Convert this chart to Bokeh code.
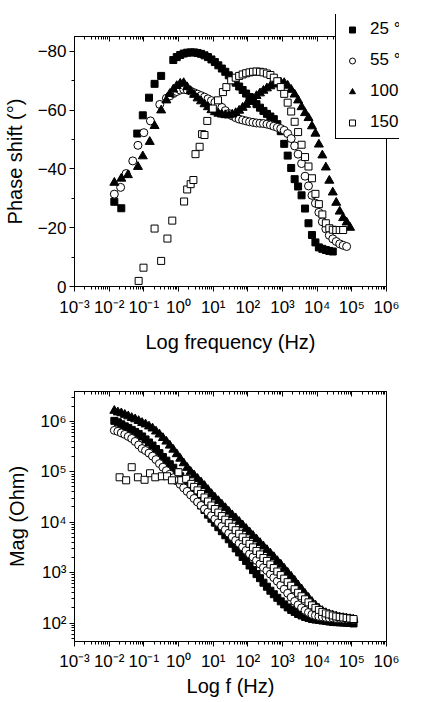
from bokeh.plotting import figure
from bokeh.layouts import column
from bokeh.models import (Range1d, FixedTicker, CustomJSTickFormatter, LogAxis,
                          Legend, LegendItem)
from bokeh.embed import file_html
from bokeh.resources import INLINE

FONT = "Liberation Sans"

# ---------------- data ----------------
# master frequency grid (Hz)
FREQ = [0.0141, 0.0178, 0.0224, 0.0282, 0.0355, 0.0447, 0.0562, 0.0708, 0.0891, 0.112,
        0.141, 0.178, 0.224, 0.282, 0.355, 0.447, 0.562, 0.708, 0.891, 1.12,
        1.41, 1.78, 2.24, 2.82, 3.55, 4.47, 5.62, 7.08, 8.91, 11.2,
        14.1, 17.8, 22.4, 28.2, 35.5, 44.7, 56.2, 70.8, 89.1, 112,
        141, 178, 224, 282, 355, 447, 562, 708, 891, 1120,
        1410, 1780, 2240, 2820, 3550, 4470, 5620, 7080, 8910, 11200,
        14100, 17800, 22400, 28200, 35500, 44700, 56200, 70800, 89100, 112000]

LABELS = ["25 °C", "55 °C", "100 °C", "150 °C"]

# Phase shift (degrees)
F25_PH = [0.0141, 0.0224, 0.0646, 0.0933, 0.141, 0.204, 0.316] + FREQ[17:64]
PH25 = [-28.8, -26.6, -52.0, -58.2, -64.2, -68.9, -71.6,
        -77.0, -78.0, -78.7, -79.2, -79.5, -79.6, -79.6, -79.4, -79.1, -78.6,
        -78.0, -77.2, -76.3, -75.2, -74.1, -73.0, -71.8, -70.6, -69.3, -68.0,
        -66.8, -65.6, -64.4, -63.2, -62.0, -60.8, -59.7, -58.7, -57.8, -56.9,
        -55.2, -52.8, -48.5, -44.5, -40.3, -36.5, -34.0, -31.0, -26.5, -21.5,
        -17.5, -15.0, -13.3, -12.8, -12.4, -12.1, -11.9]

F55_PH = [0.0141, 0.0214, 0.0309, 0.0479, 0.0676, 0.1, 0.155, 0.288] + FREQ[15:68]
PH55 = [-31.4, -33.7, -38.4, -42.7, -48.0, -52.3, -56.3, -61.9,
        -64.0, -64.8, -65.6, -66.3, -66.8, -67.0, -66.8, -66.4, -65.9, -65.4,
        -64.9, -64.4, -63.8, -63.2, -62.6, -61.9, -60.9, -59.8, -58.8, -58.0,
        -57.4, -56.9, -56.6, -56.3, -56.0, -55.8, -55.6, -55.5, -55.4, -55.2,
        -54.9, -54.5, -54.1, -53.7, -53.1, -52.0, -50.3, -47.8, -45.0, -41.8,
        -37.5, -34.2, -31.0, -28.3, -25.2, -22.0, -19.6, -17.4, -16.2, -15.3,
        -14.5, -14.0, -13.6]

F100_PH = [0.0141, 0.0224, 0.0347, 0.0676, 0.0933, 0.148, 0.204, 0.316, 0.447] + FREQ[16:69]
PH100 = [-35.3, -36.7, -37.9, -40.7, -44.3, -49.2, -54.6, -59.9, -63.3,
         -65.5, -67.0, -68.2, -69.0, -69.2, -67.8, -66.5, -65.2, -64.0, -63.0,
         -62.0, -61.0, -60.0, -59.3, -58.8, -58.5, -58.3, -58.2, -58.5, -59.0,
         -59.8, -60.8, -61.8, -62.8, -63.8, -64.8, -65.7, -66.6, -67.4, -68.1,
         -68.7, -69.2, -69.4, -69.2, -68.3, -66.9, -65.3, -63.3, -61.0, -59.0,
         -57.3, -54.5, -52.0, -48.3, -44.6, -40.5, -36.0, -32.0, -28.5, -25.5,
         -23.3, -21.8, -20.0]

F150_PH = [0.0708, 0.0977, 0.204, 0.316, 0.479, 0.661, 1.45, 1.78, 2.24, 2.69,
           3.09, 4.07, 4.79, 5.62, 6.76, 9.77, 13.8, 19.1, 24.0, 33.1] + FREQ[35:67]
PH150 = [-1.9, -6.4, -19.7, -8.7, -16.3, -22.4, -28.9, -33.0, -34.8, -36.2,
         -45.0, -47.5, -51.8, -51.5, -56.3, -60.5, -63.3, -66.1, -67.8, -70.1,
         -71.0, -71.6, -72.1, -72.5, -72.8, -73.0, -73.1, -73.0, -72.8, -72.4,
         -71.9, -71.0, -69.8, -67.8, -65.5, -62.5, -59.5, -56.0, -52.5, -48.2,
         -44.0, -40.8, -36.8, -31.5, -28.0, -24.5, -21.5, -19.8, -19.3, -19.2,
         -19.2, -19.2]

# Impedance magnitude (Ohm)
F25_MAG = FREQ
MAG25 = [1.02e6, 9.55e5, 8.71e5, 7.94e5, 7.41e5, 6.76e5, 6.17e5, 5.62e5, 5.01e5, 4.37e5,
         3.80e5, 3.31e5, 2.82e5, 2.34e5, 1.95e5, 1.66e5, 1.41e5, 1.20e5, 9.77e4, 8.13e4,
         6.61e4, 5.25e4, 4.17e4, 3.31e4, 2.63e4, 2.14e4, 1.74e4, 1.41e4, 1.17e4, 9.77e3,
         7.94e3, 6.61e3, 5.50e3, 4.57e3, 3.72e3, 3.02e3, 2.51e3, 2.04e3, 1.70e3, 1.38e3,
         1.12e3, 933, 776, 631, 525, 437, 372, 316, 269, 234,
         204, 182, 166, 151, 141, 132, 126, 120, 117, 115,
         112, 110, 107, 105, 104, 103, 102, 101, 100, 98]

F55_MAG = FREQ
MAG55 = [6.61e5, 6.31e5, 5.89e5, 5.50e5, 5.01e5, 4.57e5, 3.98e5, 3.39e5, 2.88e5, 2.63e5,
         2.34e5, 2.04e5, 1.74e5, 1.45e5, 1.23e5, 1.05e5, 8.91e4, 7.59e4, 6.61e4, 5.62e4,
         4.79e4, 4.07e4, 3.47e4, 2.95e4, 2.51e4, 2.14e4, 1.82e4, 1.58e4, 1.35e4, 1.15e4,
         9.77e3, 8.32e3, 7.08e3, 6.03e3, 5.13e3, 4.37e3, 3.80e3, 3.24e3, 2.75e3, 2.34e3,
         2.04e3, 1.74e3, 1.48e3, 1.26e3, 1.10e3, 933, 794, 676, 562, 468,
         389, 324, 269, 229, 200, 178, 162, 148, 141, 135,
         132, 129, 126, 126, 123, 123, 120, 120, 120, 117]

F100_MAG = FREQ
MAG100 = [1.62e6, 1.51e6, 1.45e6, 1.35e6, 1.26e6, 1.17e6, 1.10e6, 1.02e6, 9.33e5, 8.71e5,
          7.94e5, 7.24e5, 6.31e5, 5.50e5, 4.68e5, 3.98e5, 3.31e5, 2.75e5, 2.24e5, 1.82e5,
          1.48e5, 1.20e5, 1.00e5, 8.51e4, 7.24e4, 6.17e4, 5.25e4, 4.37e4, 3.63e4, 3.09e4,
          2.63e4, 2.24e4, 1.91e4, 1.62e4, 1.38e4, 1.20e4, 1.02e4, 8.71e3, 7.41e3, 6.31e3,
          5.37e3, 4.57e3, 3.89e3, 3.31e3, 2.82e3, 2.40e3, 2.04e3, 1.70e3, 1.45e3, 1.20e3,
          1.00e3, 832, 692, 562, 468, 380, 316, 263, 224, 195,
          174, 158, 148, 141, 135, 129, 126, 123, 120, 117]

F150_MAG = [0.02, 0.0309, 0.0447, 0.0676, 0.105, 0.151, 0.214, 0.331, 0.468, 0.646,
            1.0, 1.2, 1.66, 2.34] + FREQ[23:70]
MAG150 = [7.76e4, 6.76e4, 1.23e5, 7.76e4, 6.92e4, 9.33e4, 7.76e4, 8.13e4, 8.13e4, 6.76e4,
          9.77e4, 6.76e4, 7.24e4, 5.75e4,
          5.01e4, 4.27e4, 3.63e4, 3.09e4, 2.57e4, 2.14e4, 1.82e4, 1.55e4, 1.32e4, 1.12e4,
          9.55e3, 8.13e3, 6.92e3, 5.89e3, 5.01e3, 4.27e3, 3.72e3, 3.16e3, 2.69e3, 2.29e3,
          1.95e3, 1.70e3, 1.45e3, 1.23e3, 1.05e3, 891, 759, 646, 550, 468,
          398, 339, 295, 257, 224, 200, 182, 166, 155, 148,
          141, 135, 132, 129, 126, 123, 120]

# ticks
XTICKS = [0.001, 0.01, 0.1, 1, 10, 100, 1000, 10000, 100000, 1000000]
PH_TICKS = [0, -20, -40, -60, -80]
PH_MINOR = [-10, -30, -50, -70]
MAG_TICKS = [100, 1000, 10000, 100000, 1000000]

XMINOR = [m * t for t in XTICKS[:-1] for m in range(2, 10)]
MAGMINOR = [m * t for t in [10] + MAG_TICKS for m in range(2, 10)]

SUP_CODE = """
const sup = {"-": "\u207b", "0": "\u2070", "1": "\u00b9", "2": "\u00b2", "3": "\u00b3",
             "4": "\u2074", "5": "\u2075", "6": "\u2076", "7": "\u2077", "8": "\u2078", "9": "\u2079"};
const e = Math.round(Math.log10(tick));
return "10" + String(e).split("").map((c) => sup[c]).join("");
"""

MARKERS = [
    dict(marker="square", size=7, fill_color="black", line_color="black"),
    dict(marker="circle", size=8, fill_color="white", line_color="black"),
    dict(marker="triangle", size=9, fill_color="black", line_color="black"),
    dict(marker="square", size=7, fill_color="white", line_color="black"),
]


def style_main_axis(ax, major, minor, label_standoff, axis_standoff, formatter=None):
    ax.ticker = FixedTicker(ticks=major, minor_ticks=minor)
    if formatter is not None:
        ax.formatter = formatter
    ax.major_label_text_font = FONT
    ax.major_label_text_font_size = "17px"
    ax.major_label_text_color = "black"
    ax.axis_label_text_font = FONT
    ax.axis_label_text_font_size = "20px"
    ax.axis_label_text_font_style = "normal"
    ax.axis_label_text_color = "black"
    ax.axis_line_color = "black"
    ax.major_tick_line_color = "black"
    ax.minor_tick_line_color = "black"
    ax.major_tick_in = 0
    ax.major_tick_out = 5
    ax.minor_tick_in = 0
    ax.minor_tick_out = 3
    ax.major_label_standoff = label_standoff
    ax.axis_label_standoff = axis_standoff


def top_mirror(major, minor):
    return LogAxis(ticker=FixedTicker(ticks=major, minor_ticks=minor),
                   formatter=CustomJSTickFormatter(code="return '';"),
                   major_label_text_font_size="8px",
                   major_tick_in=5, major_tick_out=0,
                   minor_tick_in=3, minor_tick_out=0,
                   major_label_standoff=0,
                   axis_line_color="black",
                   major_tick_line_color="black", minor_tick_line_color="black")


# ---------------- top: phase ----------------
p1 = figure(frame_width=312, frame_height=250, x_axis_type="log",
            x_range=Range1d(1e-3, 1e6), y_range=Range1d(0, -85),
            output_backend="svg", toolbar_location=None,
            min_border_left=68, min_border_right=35,
            min_border_top=36, min_border_bottom=77)
p1.xgrid.visible = False
p1.ygrid.visible = False
p1.outline_line_color = "black"
p1.outline_line_alpha = 1.0

style_main_axis(p1.xaxis[0], XTICKS, XMINOR, 6, 11, CustomJSTickFormatter(code=SUP_CODE))
style_main_axis(p1.yaxis[0], PH_TICKS, PH_MINOR, 3, 9)
p1.xaxis[0].axis_label = "Log frequency (Hz)"
p1.yaxis[0].axis_label = "Phase shift (°)"
p1.add_layout(top_mirror(XTICKS, XMINOR), "above")

for fx, fy, mk in zip([F25_PH, F55_PH, F100_PH, F150_PH], [PH25, PH55, PH100, PH150], MARKERS):
    p1.scatter(fx, fy, line_width=1, **mk)

# ---------------- legend (overlaid on the top-right corner of the phase plot) ----------------
lf = figure(width=174, height=125, x_range=Range1d(0, 1), y_range=Range1d(0, 1),
            output_backend="svg", toolbar_location=None, min_border=0,
            x_axis_location=None, y_axis_location=None,
            outline_line_color=None, background_fill_alpha=0, border_fill_alpha=0,
            margin=(-349, 0, 224, 261))
lf.xgrid.visible = False
lf.ygrid.visible = False
proxies = [lf.scatter(x=[float("nan")], y=[float("nan")], line_width=1, **mk) for mk in MARKERS]
legend = Legend(items=[LegendItem(label=l, renderers=[r]) for l, r in zip(LABELS, proxies)],
                location=(0, 0), orientation="vertical",
                border_line_color="black", border_line_width=1, border_line_alpha=1.0,
                background_fill_color="white", background_fill_alpha=1.0,
                padding=6, spacing=11, margin=0,
                label_height=20, glyph_height=15, glyph_width=20, label_standoff=8,
                label_text_font=FONT, label_text_font_size="17px", label_text_color="black")
lf.add_layout(legend)

# ---------------- bottom: magnitude ----------------
p2 = figure(frame_width=312, frame_height=250, x_axis_type="log", y_axis_type="log",
            x_range=Range1d(1e-3, 1e6), y_range=Range1d(43, 3.9e6),
            output_backend="svg", toolbar_location=None,
            min_border_left=67, min_border_right=36,
            min_border_top=28, min_border_bottom=53)
p2.xgrid.visible = False
p2.ygrid.visible = False
p2.outline_line_color = "black"
p2.outline_line_alpha = 1.0

style_main_axis(p2.xaxis[0], XTICKS, XMINOR, 5, 1, CustomJSTickFormatter(code=SUP_CODE))
style_main_axis(p2.yaxis[0], MAG_TICKS, MAGMINOR, 3, 9, CustomJSTickFormatter(code=SUP_CODE))
p2.xaxis[0].axis_label = "Log f (Hz)"
p2.yaxis[0].axis_label = "Mag (Ohm)"
p2.add_layout(top_mirror(XTICKS, XMINOR), "above")

for fx, fy, mk in zip([F25_MAG, F55_MAG, F100_MAG, F150_MAG], [MAG25, MAG55, MAG100, MAG150], MARKERS):
    p2.scatter(fx, fy, line_width=1, **mk)

layout = column(p1, lf, p2)
open("out.html", "w", encoding="utf-8").write(file_html(layout, INLINE))
